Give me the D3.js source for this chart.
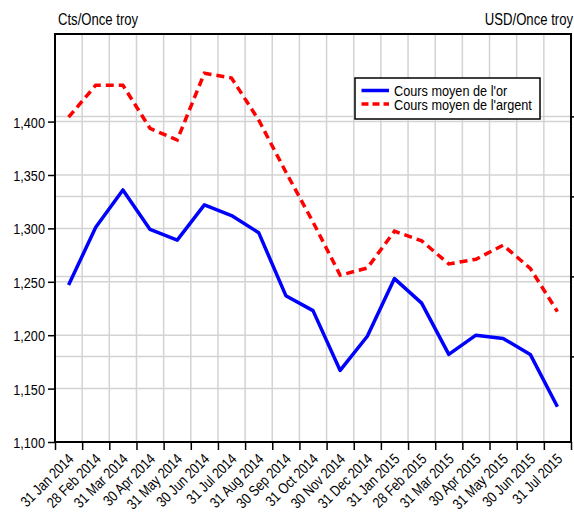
<!DOCTYPE html>
<html>
<head>
<meta charset="utf-8">
<script src="https://cdn.jsdelivr.net/npm/d3@7"></script>
<style>
  body { margin: 0; background: #fff; }
  svg text { font-family: "Liberation Sans", Arial, sans-serif; fill: #000; }
</style>
</head>
<body>
<script>
// month labels
var months = ["31 Jan 2014", "28 Feb 2014", "31 Mar 2014", "30 Apr 2014", "31 May 2014",
  "30 Jun 2014", "31 Jul 2014", "31 Aug 2014", "30 Sep 2014", "31 Oct 2014", "30 Nov 2014",
  "31 Dec 2014", "31 Jan 2015", "28 Feb 2015", "31 Mar 2015", "30 Apr 2015", "31 May 2015",
  "30 Jun 2015", "31 Jul 2015"];

// gold, left axis
var gold = [1247, 1301, 1336, 1299, 1289, 1322, 1312, 1296, 1237, 1223, 1167,
  1199, 1253, 1230, 1182, 1200, 1197, 1182, 1133];

// silver, right axis
var silver = [19.98, 20.78, 20.78, 19.70, 19.41, 21.08, 20.96, 19.91, 18.61, 17.36, 16.03,
  16.21, 17.13, 16.89, 16.31, 16.43, 16.78, 16.20, 15.12];

var leftTicks = [1100, 1150, 1200, 1250, 1300, 1350, 1400];
var rightTicks = [14, 16, 18, 20];

var seriesNames = ["Cours moyen de l'or", "Cours moyen de l'argent"];

// ----------------------------------------------------------- //

var width = 574, height = 524;
// plot box (note: "top" is taken by window.top)
var pLeft = 55, pRight = 571, pTop = 34, pBottom = 442;
// the reference font is a narrow one, squeeze the text horizontally
var narrow = 0.82;

var svg = d3.select("body").append("svg")
  .attr("width", width)
  .attr("height", height);

var xScale = d3.scaleBand()
  .domain(d3.range(months.length))
  .range([pLeft, pRight]);

var yLeft = d3.scaleLinear().domain([1100, 1482]).range([pBottom, pTop]);
var yRight = d3.scaleLinear().domain([11.86, 22.06]).range([pBottom, pTop]);

function addText(g, x, y, str, size, anchor) {
  return g.append("text")
    .attr("transform", `translate(${x},${y}) scale(${narrow},1)`)
    .attr("text-anchor", anchor || "start")
    .attr("font-size", size)
    .text(str);
}

// grid
var grid = svg.append("g").attr("stroke", "#d3d3d3").attr("stroke-width", 1.5);

grid.selectAll("line.v")
  .data(d3.range(1, months.length))
  .enter().append("line")
  .attr("x1", d => xScale(d)).attr("x2", d => xScale(d))
  .attr("y1", pTop).attr("y2", pBottom);

grid.selectAll("line.hl")
  .data(leftTicks)
  .enter().append("line")
  .attr("x1", pLeft).attr("x2", pRight)
  .attr("y1", d => yLeft(d)).attr("y2", d => yLeft(d));

grid.selectAll("line.hr")
  .data(rightTicks)
  .enter().append("line")
  .attr("x1", pLeft).attr("x2", pRight)
  .attr("y1", d => yRight(d)).attr("y2", d => yRight(d));

// series
var cx = i => xScale(i) + xScale.bandwidth() / 2;

var goldLine = d3.line().x((d, i) => cx(i)).y(d => yLeft(d));
var silverLine = d3.line().x((d, i) => cx(i)).y(d => yRight(d));

svg.append("path")
  .attr("d", silverLine(silver))
  .attr("fill", "none")
  .attr("stroke", "#ff0000")
  .attr("stroke-width", 3.5)
  .attr("stroke-dasharray", "8,5");

svg.append("path")
  .attr("d", goldLine(gold))
  .attr("fill", "none")
  .attr("stroke", "#0000ff")
  .attr("stroke-width", 3.5)
  .attr("stroke-linejoin", "round");

// axes
var axisLeft = d3.axisLeft(yLeft)
  .tickValues(leftTicks)
  .tickSize(7)
  .tickFormat("");

var gl = svg.append("g")
  .attr("transform", `translate(${pLeft},0)`)
  .call(axisLeft);
gl.select(".domain").remove();
gl.selectAll(".tick line").attr("stroke", "#000").attr("stroke-width", 1.5);
gl.selectAll(".tick").each(function(d) {
  addText(d3.select(this), -10, 5.5, d3.format(",")(d), 15.5, "end");
});

var axisRight = d3.axisRight(yRight).tickValues(rightTicks).tickSize(5).tickFormat("");
var gr = svg.append("g")
  .attr("transform", `translate(${pRight},0)`)
  .call(axisRight);
gr.select(".domain").remove();
gr.selectAll(".tick line").attr("stroke", "#000").attr("stroke-width", 1.5);

var axisBottom = d3.axisBottom(d3.scaleLinear().domain([0, months.length]).range([pLeft, pRight]))
  .tickValues(d3.range(0, months.length + 1))
  .tickSize(8)
  .tickFormat("");
var gb = svg.append("g")
  .attr("transform", `translate(0,${pBottom})`)
  .call(axisBottom);
gb.select(".domain").remove();
gb.selectAll(".tick line").attr("stroke", "#000").attr("stroke-width", 1.5);

// rotated month labels
svg.append("g").selectAll("text")
  .data(months)
  .enter().append("text")
  .attr("transform", (d, i) => `translate(${cx(i) + 6},${pBottom + 18}) rotate(-45) scale(${narrow},1)`)
  .attr("text-anchor", "end")
  .attr("font-size", 15)
  .text(d => d);

// frame
svg.append("rect")
  .attr("x", pLeft).attr("y", pTop)
  .attr("width", pRight - pLeft).attr("height", pBottom - pTop)
  .attr("fill", "none")
  .attr("stroke", "#000")
  .attr("stroke-width", 2);

// units
addText(svg, 58, 25, "Cts/Once troy", 16);
addText(svg, 573, 25, "USD/Once troy", 16, "end");

// legend
var legend = svg.append("g").attr("transform", "translate(355,78)");
legend.append("rect")
  .attr("width", 185).attr("height", 41)
  .attr("fill", "#fff").attr("stroke", "#000").attr("stroke-width", 1.5);

seriesNames.forEach(function(name, i) {
  var yy = 12.5 + i * 13.5;
  legend.append("line")
    .attr("x1", 6.5).attr("x2", 34)
    .attr("y1", yy).attr("y2", yy)
    .attr("stroke", i === 0 ? "#0000ff" : "#ff0000")
    .attr("stroke-width", 3.5)
    .attr("stroke-dasharray", i === 0 ? null : "7,4");
  addText(legend, 39, yy + 5.5, name, 15.5);
});
</script>
</body>
</html>
